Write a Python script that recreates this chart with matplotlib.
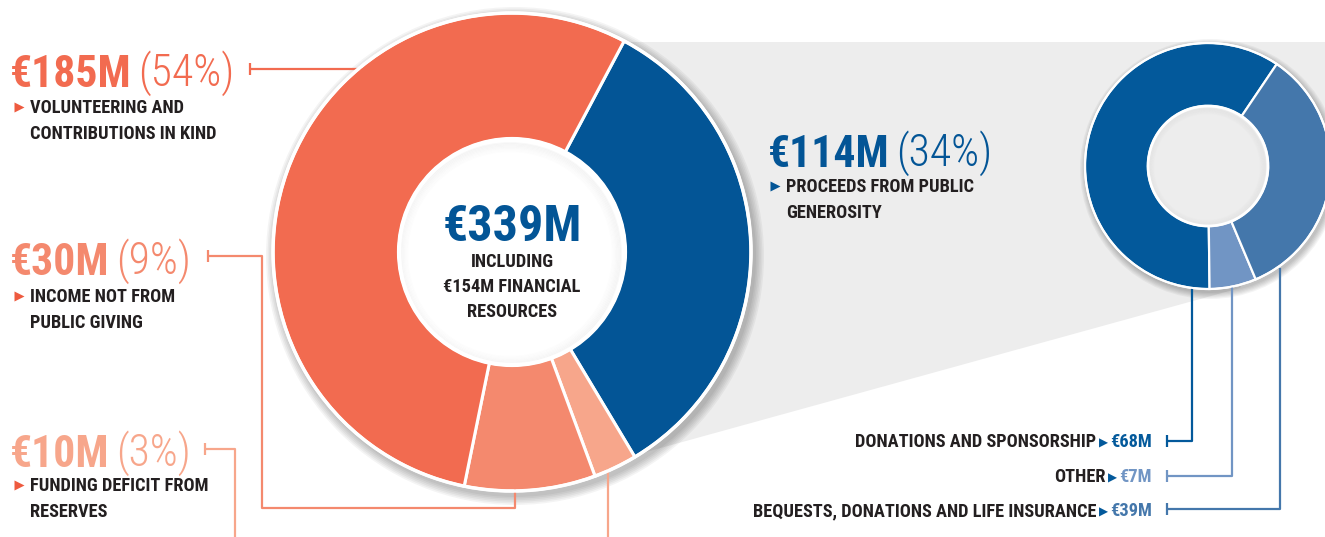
import matplotlib
matplotlib.use("Agg")
import matplotlib.pyplot as plt
from matplotlib.patches import Circle, Polygon

# ---------------- data ----------------
main_labels = ["Proceeds from public generosity", "Funding deficit from reserves",
               "Income not from public giving", "Volunteering and contributions in kind"]
main_values = [114, 10, 30, 185]
main_pcts = [34, 3, 9, 54]
main_colors = ["#035596", "#F7A68B", "#F4896E", "#F26B50"]

sub_labels = ["DONATIONS AND SPONSORSHIP", "OTHER", "BEQUESTS, DONATIONS AND LIFE INSURANCE"]
sub_values = [68, 7, 39]
sub_colors = ["#03599B", "#7195C4", "#4477AB"]

total = 339
financial = 154

W, H = 1325, 537
def Y(y):
    return H - y

FONT = ["Roboto Condensed", "Liberation Sans Narrow", "DejaVu Sans"]
plt.rcParams["font.family"] = FONT

fig = plt.figure(figsize=(W / 100, H / 100), dpi=100)
ax = fig.add_axes([0, 0, 1, 1])

# geometry (layout)
mc = (512, Y(252)); mR = 239; mW = 126
sc = (1208, Y(166)); sR = 123; sW = 63
GREY = "#EDEDED"
DARK = "#231F20"

# grey zoom wedge
ax.add_patch(Polygon([(626, Y(42)), (1325, Y(42)), (1325, Y(166)), (1240, Y(288)),
                      (628, Y(457)), (700, Y(252))], closed=True, fc=GREY, ec="none", zorder=0))

# shadows
for i in range(6):
    ax.add_patch(Circle((mc[0] + 3, mc[1] - 4), mR + 2 + i * 1.6, fc="black", alpha=0.045, ec="none", zorder=1))
    ax.add_patch(Circle((sc[0] + 2, sc[1] - 3), sR + 1 + i * 1.2, fc="black", alpha=0.045, ec="none", zorder=1))

ax.pie(main_values, colors=main_colors, startangle=62, counterclock=False, center=mc, radius=mR,
       wedgeprops=dict(width=mW, edgecolor="white", linewidth=2.2), normalize=True, frame=True)
ax.add_patch(Circle(mc, mR, fc="none", ec="white", lw=2.5, zorder=3))
ax.pie(sub_values, colors=sub_colors, startangle=56, counterclock=True, center=sc, radius=sR,
       wedgeprops=dict(width=sW, edgecolor="white", linewidth=1.6), normalize=True, frame=True)
ax.add_patch(Circle(sc, sR, fc="none", ec="white", lw=1.5, zorder=3))

# inner holes with soft inner shadow
rin = mR - mW
ax.add_patch(Circle(mc, rin, fc="white", ec="none", zorder=3))
for i in range(8):
    ax.add_patch(Circle((mc[0] - 2, mc[1] - 2), rin - 2 - i * 1.2, fc="none", ec="black",
                        lw=1.3, alpha=0.028 * (1 - i / 9), zorder=4))
ax.add_patch(Circle(mc, rin, fc="none", ec="white", lw=3, zorder=5))
srin = sR - sW
ax.add_patch(Circle(sc, srin, fc=GREY, ec="none", zorder=3))
for i in range(6):
    ax.add_patch(Circle((sc[0] - 1, sc[1] - 1), srin - 1.5 - i * 1.0, fc="none", ec="black",
                        lw=1.1, alpha=0.025 * (1 - i / 7), zorder=4))
ax.add_patch(Circle(sc, srin, fc="none", ec="white", lw=2, zorder=5))

# ---------------- leader lines ----------------
def leader(xs, ys, color):
    ax.plot(xs, [Y(v) for v in ys], color=color, lw=1.6, zorder=2, solid_capstyle="butt")
    ax.plot([xs[0]], [Y(ys[0])], marker="|", ms=8, mew=1.6, color=color, zorder=2)

leader([250, 362], [69, 69], main_colors[3])
leader([208, 262, 262, 515, 515], [256, 256, 508, 508, 488], main_colors[2])
leader([205, 235, 235], [449, 449, 545], main_colors[1])
ax.plot([608, 608], [Y(466), Y(545)], color=main_colors[1], lw=1.6, zorder=2)

leader([1167, 1192, 1192], [441, 441, 288], sub_colors[0])
leader([1167, 1232, 1232], [476, 476, 286], sub_colors[1])
leader([1167, 1280, 1280], [509, 509, 268], sub_colors[2])

# ---------------- texts ----------------
HS = 31.5
BS = 13.2
def head(x, y, bold, light, color, size=HS):
    t = ax.text(x, Y(y), bold, color=color, fontsize=size, fontweight="bold",
                ha="left", va="baseline", zorder=6)
    ax.annotate(light, xy=(1, 0), xycoords=t, xytext=(5, 0), textcoords="offset points",
                color=color, fontsize=size, fontweight="light", ha="left", va="bottom", zorder=6)
    return t

def body(x, y, lines, bullet_color, size=BS, dy=26):
    ax.plot([x + 4], [Y(y - 6)], marker=">", ms=7.5, color=bullet_color, mec="none", zorder=6)
    for i, ln in enumerate(lines):
        ax.text(x + 15, Y(y + i * dy), ln, color=DARK, fontsize=size, fontweight="bold",
                ha="left", va="baseline", zorder=6)

BUL = "#EE5A3F"
head(10, 87, f"€{main_values[3]}M", f"({main_pcts[3]}%)", main_colors[3])
body(15, 113, ["VOLUNTEERING AND", "CONTRIBUTIONS IN KIND"], BUL)
head(10, 275, f"€{main_values[2]}M", f"({main_pcts[2]}%)", main_colors[2])
body(15, 302, ["INCOME NOT FROM", "PUBLIC GIVING"], BUL)
head(10, 467, f"€{main_values[1]}M", f"({main_pcts[1]}%)", main_colors[1])
body(15, 491, ["FUNDING DEFICIT FROM", "RESERVES"], BUL)
head(768, 167, f"€{main_values[0]}M", f"({main_pcts[0]}%)", main_colors[0])
body(771, 192, ["PROCEEDS FROM PUBLIC", "GENEROSITY"], main_colors[0])

ax.text(mc[0], Y(241), f"€{total}M", color=main_colors[0], fontsize=36, fontweight="bold",
        ha="center", va="baseline", zorder=6)
for i, ln in enumerate(["INCLUDING", f"€{financial}M FINANCIAL", "RESOURCES"]):
    ax.text(mc[0], Y(267 + i * 25), ln, color=DARK, fontsize=BS, fontweight="bold",
            ha="center", va="baseline", zorder=6)

for lab, val, col, y in zip(sub_labels, sub_values, sub_colors, [447, 482, 516]):
    t = ax.text(1152, Y(y), f"€{val}M", color=col, fontsize=BS, fontweight="bold",
                ha="right", va="baseline", zorder=6)
    ax.annotate("▶", xy=(0, 0), xycoords=t, xytext=(-1.5, 1), textcoords="offset points",
                color=sub_colors[0], fontsize=8.5, ha="right", va="bottom", zorder=6,
                family="DejaVu Sans")
    ax.annotate(lab, xy=(0, 0), xycoords=t, xytext=(-10, 0), textcoords="offset points",
                color=DARK, fontsize=BS, fontweight="bold", ha="right", va="bottom", zorder=6)

ax.set_xlim(0, W)
ax.set_ylim(0, H)
ax.set_aspect("equal")
ax.axis("off")
fig.savefig("out.png", dpi=100, facecolor="white")
